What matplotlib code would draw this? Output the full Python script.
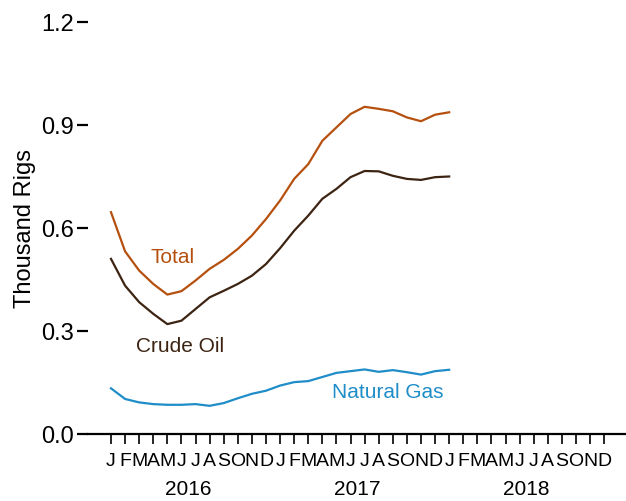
import numpy as np
import matplotlib
matplotlib.use("Agg")
import matplotlib.pyplot as plt

plt.rcParams['font.family'] = ['Liberation Sans', 'DejaVu Sans']

# Données mensuelles (milliers d'appareils), janv. 2016 -> janv. 2018
total = [0.646, 0.532, 0.476, 0.437, 0.406, 0.416, 0.447, 0.481, 0.507, 0.539,
         0.578, 0.626, 0.680, 0.743, 0.786, 0.854, 0.893, 0.932, 0.953, 0.947,
         0.940, 0.922, 0.911, 0.930, 0.937]
crude_oil = [0.510, 0.432, 0.384, 0.350, 0.320, 0.330, 0.364, 0.398, 0.417, 0.437,
             0.461, 0.495, 0.541, 0.592, 0.636, 0.685, 0.714, 0.748, 0.766, 0.765,
             0.752, 0.743, 0.740, 0.748, 0.750]
natural_gas = [0.133, 0.102, 0.092, 0.087, 0.085, 0.085, 0.087, 0.082, 0.090, 0.104,
               0.117, 0.126, 0.141, 0.151, 0.154, 0.166, 0.178, 0.183, 0.188, 0.181,
               0.186, 0.180, 0.173, 0.183, 0.187]

mois = list("JFMAMJJASOND") * 3
annees = ["2016", "2017", "2018"]
yticks = [0.0, 0.3, 0.6, 0.9, 1.2]

c_total = "#b5500e"
c_oil = "#3d2412"
c_gas = "#1f8dc8"

fig = plt.figure(figsize=(6.26, 5.02), dpi=100)
ax = fig.add_axes([0.1406, 0.1335, 0.8594, 0.8207])

x = np.arange(len(total))
ax.plot(x, total, color=c_total, lw=1.6)
ax.plot(x, crude_oil, color=c_oil, lw=1.6)
ax.plot(x, natural_gas, color=c_gas, lw=1.6)

ax.text(4.4, 0.516, "Total", color=c_total, fontsize=15, ha="center", va="center")
ax.text(4.9, 0.259, "Crude Oil", color=c_oil, fontsize=15, ha="center", va="center")
ax.text(19.66, 0.125, "Natural Gas", color=c_gas, fontsize=15, ha="center", va="center")

ax.set_xlim(-1.63, 36.55)
ax.set_ylim(0, 1.2)

# Axes
for s in ["top", "right", "left"]:
    ax.spines[s].set_visible(False)
ax.spines["bottom"].set_linewidth(1.6)

ax.set_yticks(yticks)
ax.set_yticklabels([f"{v:.1f}" for v in yticks], fontsize=17)
ax.tick_params(axis="y", length=8, width=1.6, pad=2)

ax.set_xticks(np.arange(36))
ax.set_xticklabels(mois, fontsize=14, family=['Liberation Sans Narrow', 'Liberation Sans'])
ax.tick_params(axis="x", length=7, width=1.2, pad=6)

for i, a in enumerate(annees):
    ax.text(5.5 + 12 * i, -0.133, a, fontsize=15, ha="center", va="center",
            transform=ax.get_xaxis_transform())

ax.set_ylabel("Thousand Rigs", fontsize=17, labelpad=4)

fig.savefig("out.png", dpi=100)
